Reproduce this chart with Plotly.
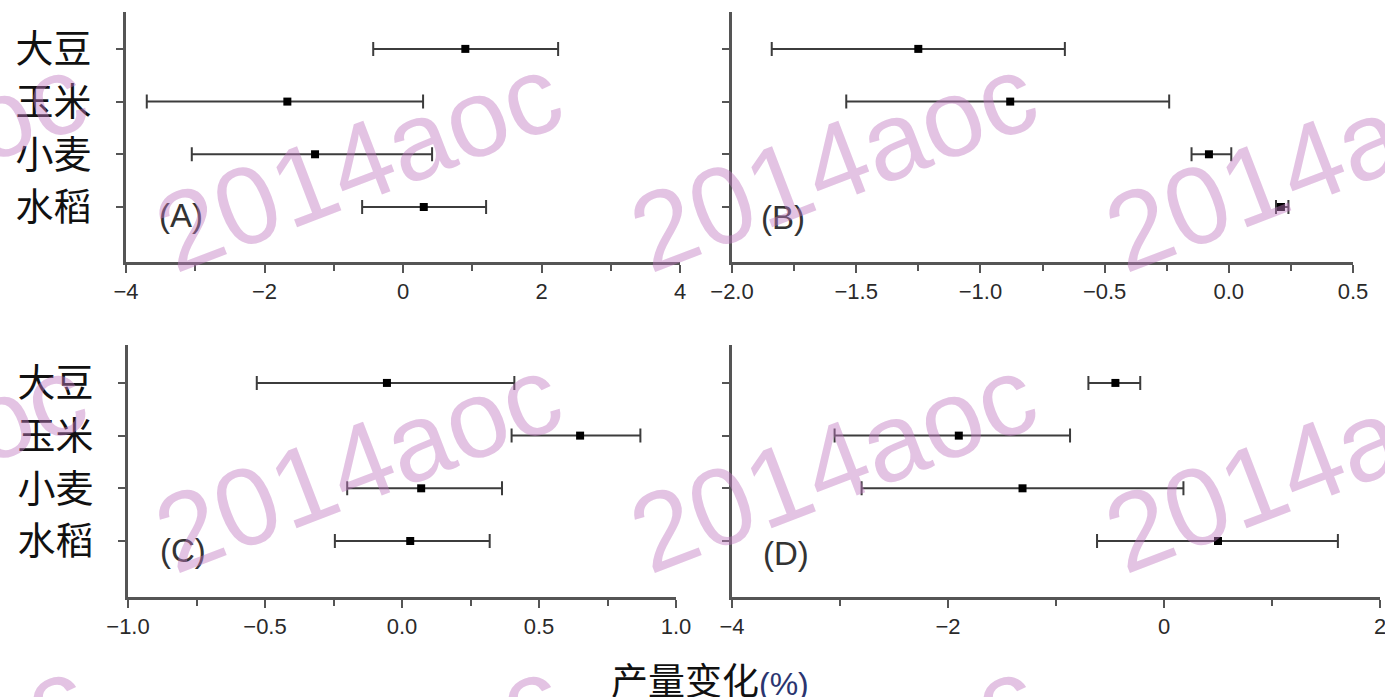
import plotly.graph_objects as go

# ---------------- data ----------------
crops = ["大豆", "玉米", "小麦", "水稻"]
ypos = [3, 2, 1, 0]

a_mean = [0.90, -1.67, -1.27, 0.30]
a_low = [-0.43, -3.70, -3.05, -0.59]
a_high = [2.24, 0.29, 0.42, 1.20]

b_mean = [-1.25, -0.88, -0.08, 0.21]
b_low = [-1.84, -1.54, -0.15, 0.19]
b_high = [-0.66, -0.24, 0.01, 0.24]

c_mean = [-0.055, 0.65, 0.07, 0.03]
c_low = [-0.53, 0.40, -0.20, -0.245]
c_high = [0.41, 0.87, 0.365, 0.32]

d_mean = [-0.45, -1.90, -1.31, 0.50]
d_low = [-0.70, -3.05, -2.80, -0.62]
d_high = [-0.22, -0.87, 0.18, 1.61]

panels = [
    ("(A)", a_mean, a_low, a_high, [-4, 4], 2, 1),
    ("(B)", b_mean, b_low, b_high, [-2.0, 0.5], 0.5, 0.25),
    ("(C)", c_mean, c_low, c_high, [-1.0, 1.0], 0.5, 0.25),
    ("(D)", d_mean, d_low, d_high, [-4, 2], 2, 1),
]
tickfmt = ["", ".1f", ".1f", ""]

W, H = 1385, 697
def px(x):
    return x / W
def py(y):
    return 1 - y / H

xdomains = [[px(126), px(680)], [px(732), px(1353)], [px(128), px(676)], [px(732), px(1380)]]
ydomains = [[py(262), py(12)], [py(262), py(12)], [py(597), py(345)], [py(597), py(345)]]
yranges = [[-1.044, 3.70], [-1.044, 3.70], [-1.063, 3.72], [-1.063, 3.72]]
label_pos = [(181, 215), (783, 218), (183, 550), (786, 553)]

fig = go.Figure()
layout = dict(
    template="none",
    width=W, height=H,
    margin=dict(l=0, r=0, t=0, b=0, pad=0),
    paper_bgcolor="white", plot_bgcolor="white",
    showlegend=False,
)

axis_color = "#555555"
annotations = []
for i, (lab, m, lo, hi, xr, dt, mdt) in enumerate(panels):
    n = i + 1
    xa = "x" if n == 1 else f"x{n}"
    ya = "y" if n == 1 else f"y{n}"
    plus = [h - v for h, v in zip(hi, m)]
    minus = [v - l for v, l in zip(m, lo)]
    fig.add_trace(go.Scatter(
        x=m, y=ypos, mode="markers", xaxis=xa, yaxis=ya,
        marker=dict(symbol="square", size=8, color="black"),
        error_x=dict(type="data", symmetric=False, array=plus, arrayminus=minus,
                     color="#3c3c3c", thickness=2, width=7),
        cliponaxis=False,
    ))
    layout[f"xaxis{'' if n == 1 else n}"] = dict(
        domain=xdomains[i], anchor=ya, range=xr, dtick=dt, tick0=0, automargin=False,
        showgrid=False, zeroline=False, showline=True, linecolor=axis_color, linewidth=3,
        ticks="outside", ticklen=8, tickwidth=2, tickcolor=axis_color,
        tickformat=tickfmt[i], ticklabeloverflow="allow",
        tickfont=dict(family="Liberation Sans", size=22, color="#2a2a2a"),
        minor=dict(ticks="outside", dtick=mdt, tick0=0, ticklen=6, tickwidth=2, tickcolor=axis_color),
    )
    layout[f"yaxis{'' if n == 1 else n}"] = dict(
        domain=ydomains[i], anchor=xa, range=yranges[i], automargin=False,
        tickvals=ypos, ticktext=crops if n in (1, 3) else ["", "", "", ""],
        showticklabels=n in (1, 3), ticklabelstandoff=17,
        showgrid=False, zeroline=False, showline=True, linecolor=axis_color, linewidth=3,
        ticks="outside", ticklen=7, tickwidth=2, tickcolor=axis_color,
        tickfont=dict(family="Noto Sans CJK SC", size=38, color="#111111"),
    )
    lx, ly = label_pos[i]
    annotations.append(dict(
        x=px(lx), y=py(ly), xref="paper", yref="paper", text=lab, showarrow=False,
        font=dict(family="Liberation Sans", size=33, color="#333333"),
        xanchor="center", yanchor="middle",
    ))

annotations.append(dict(
    x=px(710), y=py(679), xref="paper", yref="paper",
    text="<span style='font-family:Noto Sans CJK SC;font-size:37px'>产量变化</span>"
         "<span style='font-family:Liberation Sans;color:#2b3570;font-size:32px'>(%)</span>",
    showarrow=False, font=dict(family="Noto Sans CJK SC", size=34, color="#111111"),
    xanchor="center", yanchor="middle",
))

# watermarks
wm_cols = [-117, 358, 833, 1308]
wm_rows = [162, 464, 764]
for wy in wm_rows:
    for wx in wm_cols:
        annotations.append(dict(
            x=px(wx), y=py(wy), xref="paper", yref="paper", text="2014aoc",
            showarrow=False, textangle=-21,
            font=dict(family="Liberation Sans", size=110, color="rgba(192,122,192,0.45)"),
            xanchor="center", yanchor="middle",
        ))

layout["annotations"] = annotations
fig.update_layout(**layout)
fig.write_html("out.html")
